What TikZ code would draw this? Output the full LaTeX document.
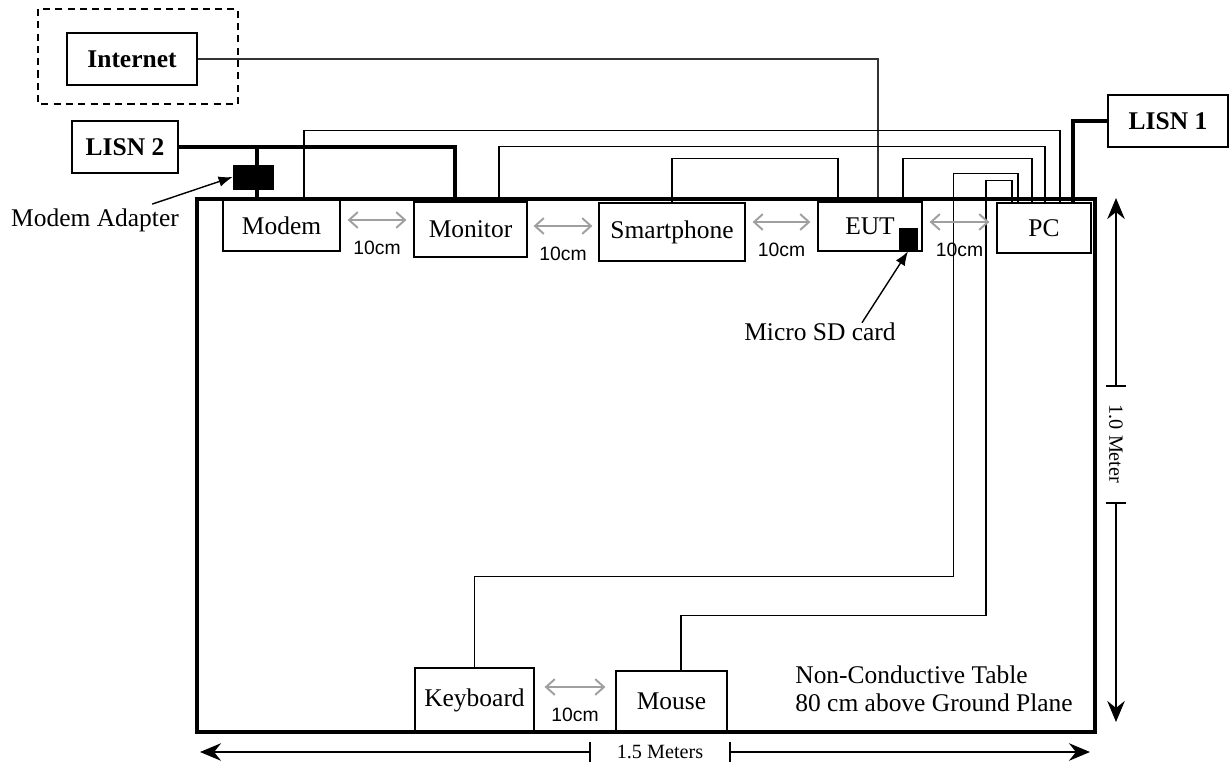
\documentclass[tikz,border=0pt]{standalone}
\usepackage{fontspec}
\setmainfont{Liberation Serif}
\setsansfont{Liberation Sans}
\usetikzlibrary{arrows.meta}
\usetikzlibrary{calc}

\newcommand{\labelsize}{\fontsize{14.5}{16}\selectfont}

\begin{document}
\begin{tikzpicture}[x=0.02cm,y=-0.02cm,
        box/.style={draw,line width=0.7pt,inner sep=0pt,font=\labelsize},
        boldbox/.style={box,font=\labelsize\bfseries},
        plug/.style={fill=black,draw=black,inner sep=0pt},
        wire/.style={line width=1pt},
        power/.style={line width=1.8pt},
        gap/.style={gray!75,line width=1.1pt,{Straight Barb[length=5pt,width=9pt]}-{Straight Barb[length=5pt,width=9pt]}},
        dim/.style={text=black,font=\sffamily\fontsize{11}{13}\selectfont},
        meas/.style={line width=0.8pt,-{Stealth[length=12pt,width=10pt,inset=4pt]}},
        note/.style={line width=0.8pt,-{Latex[length=8pt,width=6pt]}}]

        \useasboundingbox (0,0) rectangle (1229,770);

        % Internet and LISNs
        \draw[line width=0.7pt,dash pattern=on 4pt off 3pt] (38,9) rectangle (238,104);
        \node[boldbox,minimum width=2.6cm,minimum height=1.04cm] (internet) at (132,59) {Internet};
        \node[boldbox,minimum width=2.12cm,minimum height=1.04cm] (lisn2) at (125,147) {LISN 2};
        \node[boldbox,minimum width=2.4cm,minimum height=1.04cm] (lisn1) at (1168,121) {LISN 1};

        % Devices on the table
        \node[box,minimum width=2.34cm,minimum height=1.02cm] (modem) at (281.5,225.5) {Modem};
        \node[box,minimum width=2.26cm,minimum height=1.1cm] (monitor) at (470.5,229.5) {Monitor};
        \node[box,minimum width=2.92cm,minimum height=1.16cm] (phone) at (672,232) {Smartphone};
        \node[box,minimum width=2.08cm,minimum height=0.98cm] (eut) at (870,226.5) {EUT};
        \node[box,minimum width=1.88cm,minimum height=1.0cm] (pc) at (1044,228) {PC};
        \node[box,minimum width=2.38cm,minimum height=1.28cm] (keyboard) at (474.5,700) {Keyboard};
        \node[box,minimum width=2.22cm,minimum height=1.22cm] (mouse) at (671.5,701.5) {Mouse};

        \node[plug,minimum width=0.8cm,minimum height=0.48cm] (adapter) at (253,177) {};
        \node[plug,minimum width=0.36cm,minimum height=0.46cm] (sdcard) at (908,239.5) {};

        % Cables
        \draw[wire,black!80] (internet.east) -| ([xshift=0.16cm]eut.north);
        \draw[wire] ([xshift=0.45cm]modem.north) -- ++(0,-69) -| ([xshift=0.32cm]pc.north);
        \draw[wire] ([xshift=0.57cm]monitor.north) -- ++(0,-55) -| ([xshift=0.02cm]pc.north);
        \draw[wire] (phone.north) -- ++(0,-44) -| ([xshift=-0.64cm]eut.north);
        \draw[wire] ([xshift=0.66cm]eut.north) -- ++(0,-43) -| ([xshift=-0.24cm]pc.north);
        \draw[wire] (keyboard.north) -- ++(0,-91) -- ++(479,0) -- ++(0,-403) -| ([xshift=-0.52cm]pc.north);
        \draw[wire] ([xshift=0.19cm]mouse.north) -- ++(0,-55) -- ++(305,0) -- ++(0,-435) -| ([xshift=-0.64cm]pc.north);

        % Power
        \draw[power] (lisn2.east) -| ([xshift=-0.31cm]monitor.north);
        \draw[power] ([xshift=0.08cm]adapter.center |- lisn2.east) -- ([xshift=0.08cm]adapter.center |- modem.north);
        \draw[power] (lisn1.west) -| ([xshift=0.58cm]pc.north);
        \node[plug,minimum width=0.8cm,minimum height=0.48cm] at (adapter) {};

        % Table
        \draw[line width=1.8pt] (197,199) rectangle (1095,732);

        % Spacing
        \foreach \a/\b/\dy/\s in {modem/monitor/0.11/0.14, monitor/phone/0.07/0.12, phone/eut/0.2/0.14, eut/pc/0.09/0.14, keyboard/mouse/0.26/0.2}
        {
            \draw[gap,shorten <=\s cm,shorten >=\s cm] ([yshift=\dy cm]\a.east) -- ([yshift=\dy cm]\a.east -| \b.west)
                node[dim,midway,yshift=-0.56cm] {10cm};
        }

        % Labels
        \node[font=\labelsize,inner sep=0pt] (adaptlabel) at (95,220) {Modem Adapter};
        \draw[note] ($(adaptlabel.north east)+(-27,-4)$) -- (adapter.west);
        \node[font=\labelsize,inner sep=0pt] (sdlabel) at (820,332) {Micro SD card};
        \draw[note] ($(sdlabel.north)+(42,0)$) -- (sdcard.south);
        \node[font=\labelsize,inner sep=0pt,anchor=west,align=left] (tablenote) at (795,689) {Non-Conductive Table\\80 cm above Ground Plane};

        % Sizes
        \node[font=\fontsize{11.5}{13}\selectfont] (width) at (660,752) {1.5 Meters};
        \draw[meas] (590,752) -- (200,752);
        \draw[meas] (730,752) -- (1090,752);
        \draw[line width=0.8pt] (590,742) -- (590,762);
        \draw[line width=0.8pt] (730,742) -- (730,762);

        \node[font=\fontsize{11.5}{13}\selectfont,rotate=-90] (height) at (1116,444) {1.0 Meter};
        \draw[meas] (1116,386) -- (1116,198);
        \draw[meas] (1116,503) -- (1116,722);
        \draw[line width=0.8pt] (1106,386) -- (1126,386);
        \draw[line width=0.8pt] (1106,503) -- (1126,503);

\end{tikzpicture}
\end{document}
